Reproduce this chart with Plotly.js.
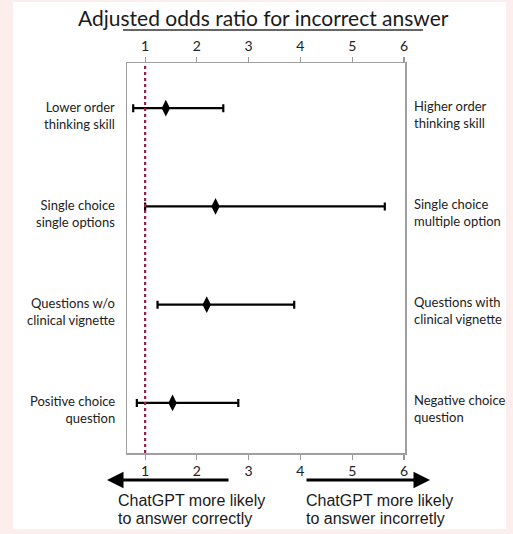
<!DOCTYPE html>
<html>
<head>
<meta charset="utf-8">
<script src="https://cdn.plot.ly/plotly-3.0.1.min.js"></script>
<style>html,body{margin:0;padding:0;background:#fdeeee;}#chart{width:513px;height:534px;}</style>
</head>
<body>
<div id="chart"></div>
<script>
// ---- data ----
var leftLabels = ["Lower order<br>thinking skill", "Single choice<br>single options", "Questions w/o<br>clinical vignette", "Positive choice<br>question"];
var rightLabels = ["Higher order<br>thinking skill", "Single choice<br>multiple option", "Questions with<br>clinical vignette", "Negative choice<br>question"];
var rowPos = [4, 3, 2, 1];
var oddsRatio = [1.40, 2.36, 2.19, 1.53];
var ciLower = [0.77, 1.00, 1.24, 0.84];
var ciUpper = [2.51, 5.63, 3.88, 2.80];
var tickVals = [1, 2, 3, 4, 5, 6];
var titleText = "Adjusted odds ratio for incorrect answer";
var leftNote = ["ChatGPT more likely", "to answer correctly"];
var rightNote = ["ChatGPT more likely", "to answer incorretly"];
var refValue = 1;

// ---- layout helpers (pixel -> paper) ----
var L = 127, R = 405, T = 63, B = 453;
function px(x) { return (x - L) / (R - L); }
function py(y) { return (B - y) / (B - T); }

var plus = ciUpper.map(function (u, i) { return u - oddsRatio[i]; });
var minus = ciLower.map(function (l, i) { return oddsRatio[i] - l; });

var traces = [
  {
    x: oddsRatio, y: rowPos, type: 'scatter', mode: 'markers',
    marker: {symbol: 'diamond-tall', size: 12, color: '#000'},
    error_x: {type: 'data', symmetric: false, array: plus, arrayminus: minus,
              color: '#000', thickness: 2.2, width: 4},
    hoverinfo: 'skip', showlegend: false, cliponaxis: false
  },
  {
    x: tickVals, y: tickVals.map(function () { return 0; }), xaxis: 'x2', yaxis: 'y',
    type: 'scatter', mode: 'markers', marker: {opacity: 0}, hoverinfo: 'skip', showlegend: false
  }
];

var tickFont = {family: 'Lato, "Open Sans", sans-serif', size: 14, color: '#222'};
var labelFont = {family: 'Lato, "Open Sans", sans-serif', size: 13, color: '#222'};
var noteFont = {family: '"Liberation Sans", Arial, sans-serif', size: 16, color: '#1a1a1a'};

var annotations = [];
annotations.push({xref: 'paper', yref: 'paper', x: px(263), y: py(18), text: titleText,
  showarrow: false, xanchor: 'center', yanchor: 'middle',
  font: {family: 'Lato, "Open Sans", sans-serif', size: 21, color: '#1a1a1a'}});
leftLabels.forEach(function (t, i) {
  annotations.push({xref: 'paper', yref: 'y', x: px(117), y: rowPos[i], yshift: -7,
    text: t, showarrow: false, xanchor: 'right', align: 'right', yanchor: 'middle', font: labelFont});
});
rightLabels.forEach(function (t, i) {
  annotations.push({xref: 'paper', yref: 'y', x: px(412), y: rowPos[i], yshift: -6,
    text: t, showarrow: false, xanchor: 'left', align: 'left', yanchor: 'middle', font: labelFont});
});
// arrows
annotations.push({xref: 'paper', yref: 'paper', x: px(107), y: py(480), ax: 123, ay: 0,
  text: '', showarrow: true, arrowhead: 2, arrowsize: 1.1, arrowwidth: 3, arrowcolor: '#000', standoff: 0});
annotations.push({xref: 'paper', yref: 'paper', x: px(430), y: py(480), ax: -125, ay: 0,
  text: '', showarrow: true, arrowhead: 2, arrowsize: 1.1, arrowwidth: 3, arrowcolor: '#000', standoff: 0});
leftNote.forEach(function (t, i) {
  annotations.push({xref: 'paper', yref: 'paper', x: px(116), y: py(500 + 18 * i), text: t,
    showarrow: false, xanchor: 'left', yanchor: 'middle', font: noteFont});
});
rightNote.forEach(function (t, i) {
  annotations.push({xref: 'paper', yref: 'paper', x: px(304), y: py(500 + 18 * i), text: t,
    showarrow: false, xanchor: 'left', yanchor: 'middle', font: noteFont});
});

var shapes = [
  {type: 'rect', xref: 'paper', yref: 'paper', x0: px(13), x1: px(506), y0: py(529), y1: py(2),
   fillcolor: '#ffffff', line: {width: 0}, layer: 'below'},
  {type: 'line', xref: 'x', yref: 'paper', x0: refValue, x1: refValue, y0: 0, y1: 1,
   line: {color: '#8e2344', width: 2.2, dash: 'dot'}, layer: 'above'},
  {type: 'line', xref: 'paper', yref: 'paper', x0: px(123), x1: px(423), y0: py(30), y1: py(30),
   line: {color: '#333', width: 1.5}}
];

var axisCommon = {
  range: [0.65, 6.02], tickvals: tickVals, ticks: 'outside', ticklen: 5, tickwidth: 1.2,
  tickcolor: '#999', showgrid: false, zeroline: false, tickfont: tickFont, fixedrange: true
};

var layout = {
  width: 513, height: 534,
  margin: {l: L, r: 513 - R, t: T, b: 534 - B, pad: 0},
  paper_bgcolor: '#fdeeee', plot_bgcolor: '#ffffff',
  xaxis: Object.assign({}, axisCommon, {side: 'bottom', showline: true, mirror: true,
    linecolor: '#a0a0a0', linewidth: 1.5}),
  xaxis2: Object.assign({}, axisCommon, {side: 'top', overlaying: 'x', anchor: 'y', showline: false}),
  yaxis: {range: [0.49, 4.46], showline: true, mirror: true, linecolor: '#a0a0a0', linewidth: 1.5,
    showticklabels: false, ticks: '', showgrid: false, zeroline: false, fixedrange: true},
  shapes: shapes,
  annotations: annotations,
  showlegend: false
};

Plotly.newPlot('chart', traces, layout, {displayModeBar: false, staticPlot: true});
</script>
</body>
</html>
